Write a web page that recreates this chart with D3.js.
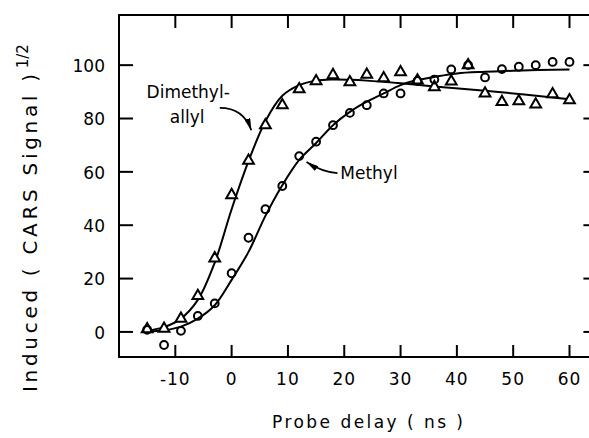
<!DOCTYPE html>
<html>
<head>
<meta charset="utf-8">
<script src="https://cdn.jsdelivr.net/npm/d3@7"></script>
<style>
  body { margin: 0; background: #fff; }
  text { font-family: "DejaVu Sans", sans-serif; fill: #000; }
</style>
</head>
<body>
<div id="chart"></div>
<script>
const width = 589;
const height = 438;

// probe delay (ns), one measurement every 3 ns
const delays = [-15, -12, -9, -6, -3, 0, 3, 6, 9, 12, 15, 18, 21, 24, 27, 30, 33, 36, 39, 42, 45, 48, 51, 54, 57, 60];
// triangles
const dimethylallyl = [1, 1.2, 5, 13.5, 27.6, 51.3, 64.2, 77.5, 85, 91, 94, 96.3, 93.6, 96.4, 95.1, 97.4, 94.3, 91.8, 93.9, 100, 89.4, 86.2, 86.5, 85.3, 89.1, 86.9];
// circles
const methyl = [0.8, -4.9, 0.4, 6, 10.7, 22, 35.3, 46, 54.7, 65.9, 71.3, 77.5, 82.1, 85, 89.4, 89.4, 94.1, 94.6, 98.4, 100, 95.4, 98.5, 99.4, 100, 101.2, 101.2];

// fitted curves
const fitDelaysDma = [-15, -12, -9, -6, -3, 0, 3, 6, 9, 12, 15, 18, 21, 24, 30, 36, 45, 52, 60];
const fitDma = [0.5, 1.8, 5, 12, 26, 46, 64, 79, 88.5, 92.5, 94.2, 94.6, 94.5, 94.2, 93.2, 92, 90.4, 89, 87.2];
const fitDelaysMe = [-15, -12, -9, -6, -3, 0, 3, 6, 9, 12, 15, 18, 21, 24, 27, 30, 33, 36, 40, 45, 50, 60];
const fitMe = [0.2, 0.6, 2, 5, 10, 19.5, 30, 43.5, 55, 64.5, 70.8, 77.5, 82.5, 86.3, 89.4, 92.5, 94.4, 95.6, 96.9, 97.5, 97.9, 98.4];

const xTicks = [-10, 0, 10, 20, 30, 40, 50, 60];
const yTicks = [0, 20, 40, 60, 80, 100];

const x = d3.scaleLinear().domain([-20, 60]).range([119, 569.5]);
const y = d3.scaleLinear().domain([-9.4, 118.8]).range([357, 15]);
const xMax = 64.6;

const svg = d3.select('#chart').append('svg')
    .attr('width', width)
    .attr('height', height);

svg.append('defs').append('marker')
    .attr('id', 'head')
    .attr('markerUnits', 'userSpaceOnUse')
    .attr('viewBox', '0 0 12 6')
    .attr('refX', 12).attr('refY', 3)
    .attr('markerWidth', 12).attr('markerHeight', 6)
    .attr('orient', 'auto')
    .append('path')
    .attr('d', 'M0,0L12,3L0,6Z')
    .attr('fill', '#000');

// frame
const frame = svg.append('g').attr('stroke', '#000').attr('stroke-width', 2).attr('fill', 'none');
frame.append('path')
    .attr('d', `M${x(xMax)},${y(118.8)}H${x(-20)}V${y(-9.4)}H${x(xMax)}`);

// ticks on all four sides, pointing in
frame.selectAll('line.xb').data(xTicks).join('line')
    .attr('class', 'xb')
    .attr('x1', d => x(d)).attr('x2', d => x(d))
    .attr('y1', y(-9.4)).attr('y2', y(-9.4) - 12);
frame.selectAll('line.xt').data(xTicks).join('line')
    .attr('class', 'xt')
    .attr('x1', d => x(d)).attr('x2', d => x(d))
    .attr('y1', y(118.8)).attr('y2', y(118.8) + 13);
frame.selectAll('line.yl').data(yTicks).join('line')
    .attr('class', 'yl')
    .attr('x1', x(-20)).attr('x2', x(-20) + 14)
    .attr('y1', d => y(d)).attr('y2', d => y(d));
frame.selectAll('line.yr').data(yTicks).join('line')
    .attr('class', 'yr')
    .attr('x1', x(xMax)).attr('x2', x(xMax) - 12)
    .attr('y1', d => y(d)).attr('y2', d => y(d));

// tick labels
svg.selectAll('text.xl').data(xTicks).join('text')
    .attr('class', 'xl')
    .attr('x', d => x(d))
    .attr('y', 385)
    .attr('text-anchor', 'middle')
    .attr('font-size', 17)
    .attr('letter-spacing', 1)
    .text(d => d);
svg.selectAll('text.yl').data(yTicks).join('text')
    .attr('class', 'yl')
    .attr('x', 105)
    .attr('y', d => y(d))
    .attr('dy', '0.4em')
    .attr('text-anchor', 'end')
    .attr('font-size', 17)
    .text(d => d);

// axis titles
svg.append('text')
    .attr('x', 272).attr('y', 428)
    .attr('font-size', 17)
    .attr('textLength', 191)
    .attr('lengthAdjust', 'spacing')
    .text('Probe delay ( ns )');

const yt = svg.append('text')
    .attr('transform', 'translate(37,392) rotate(-90)')
    .attr('font-size', 20);
yt.append('tspan')
    .attr('textLength', 318)
    .attr('lengthAdjust', 'spacing')
    .text('Induced ( CARS Signal )');
yt.append('tspan')
    .attr('dy', -9)
    .attr('dx', 2)
    .attr('font-size', 15)
    .text('1/2');

// fitted curves
const line = d3.line()
    .x(d => x(d[0]))
    .y(d => y(d[1]))
    .curve(d3.curveCatmullRom);

svg.append('path')
    .datum(d3.zip(fitDelaysDma, fitDma))
    .attr('d', line)
    .attr('fill', 'none').attr('stroke', '#000').attr('stroke-width', 2);
svg.append('path')
    .datum(d3.zip(fitDelaysMe, fitMe))
    .attr('d', line)
    .attr('fill', 'none').attr('stroke', '#000').attr('stroke-width', 2);

// data points
const tri = d3.symbol().type(d3.symbolTriangle).size(50);
svg.selectAll('path.tri').data(d3.zip(delays, dimethylallyl)).join('path')
    .attr('class', 'tri')
    .attr('d', tri)
    .attr('transform', d => `translate(${x(d[0])},${y(d[1])})`)
    .attr('fill', '#fff').attr('stroke', '#000').attr('stroke-width', 2);

svg.selectAll('circle.me').data(d3.zip(delays, methyl)).join('circle')
    .attr('class', 'me')
    .attr('cx', d => x(d[0]))
    .attr('cy', d => y(d[1]))
    .attr('r', 3.9)
    .attr('fill', 'none').attr('stroke', '#000').attr('stroke-width', 2);

// labels + arrows
svg.append('text')
    .attr('x', x(-15.1)).attr('y', y(87.6))
    .attr('font-size', 17)
    .text('Dimethyl-');
svg.append('text')
    .attr('x', x(-7.9)).attr('y', y(78.3))
    .attr('text-anchor', 'middle')
    .attr('font-size', 17)
    .text('allyl');
svg.append('text')
    .attr('x', x(19.3)).attr('y', y(57.3))
    .attr('font-size', 17)
    .text('Methyl');

svg.append('path')
    .attr('d', `M${x(-2.1)},${y(84)}Q${x(2.1)},${y(84)} ${x(3.5)},${y(75.6)}`)
    .attr('fill', 'none').attr('stroke', '#000').attr('stroke-width', 1.7)
    .attr('marker-end', 'url(#head)');
svg.append('path')
    .attr('d', `M${x(18.8)},${y(59.5)}Q${x(16)},${y(60)} ${x(13.3)},${y(63.7)}`)
    .attr('fill', 'none').attr('stroke', '#000').attr('stroke-width', 1.7)
    .attr('marker-end', 'url(#head)');
</script>
</body>
</html>
